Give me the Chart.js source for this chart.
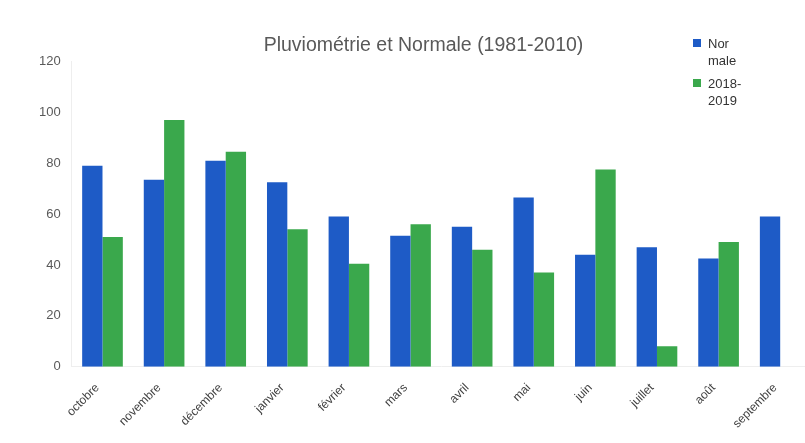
<!DOCTYPE html>
<html>
<head>
<meta charset="utf-8">
<script src="https://cdn.jsdelivr.net/npm/chart.js@4"></script>
<style>
  html, body { margin: 0; padding: 0; background: #fff; overflow: hidden; }
  #wrap { position: relative; width: 805px; height: 443px; overflow: hidden; }
  #legend { position: absolute; left: 693px; top: 35px; font: 13px "Liberation Sans", Arial, sans-serif; color: #333; line-height: 17px; }
  .item { position: relative; padding-left: 15px; margin-bottom: 6px; }
  .box { position: absolute; left: 0; top: 4px; width: 8px; height: 8px; }
</style>
</head>
<body>
<div id="wrap">
  <canvas id="pluvioChart" width="814" height="443"></canvas>
  <div id="legend">
    <div class="item"><span class="box" style="background:#1e5bc6"></span>Nor<br>male</div>
    <div class="item"><span class="box" style="background:#3aa84c"></span>2018-<br>2019</div>
  </div>
</div>
<script>
// --- DATA ---
const months = ["octobre", "novembre", "décembre", "janvier", "février", "mars",
                "avril", "mai", "juin", "juillet", "août", "septembre"];
const normale = [79, 73.5, 81, 72.5, 59, 51.5, 55, 66.5, 44, 47, 42.5, 59];
const saison = [51, 97, 84.5, 54, 40.5, 56, 46, 37, 77.5, 8, 49, null];
const yTicks = { min: 0, max: 120, step: 20 };

// --- Chart ---
const ctx = document.getElementById('pluvioChart').getContext('2d');
new Chart(ctx, {
  type: 'bar',
  data: {
    labels: months,
    datasets: [
      { label: "Normale", data: normale, backgroundColor: "#1e5bc6" },
      { label: "2018-2019", data: saison, backgroundColor: "#3aa84c" }
    ]
  },
  options: {
    responsive: false,
    animation: false,
    layout: { padding: { left: 36, right: 3, top: 34, bottom: 6 } },
    datasets: { bar: { categoryPercentage: 0.66, barPercentage: 1.0 } },
    scales: {
      x: {
        grid: { display: false },
        border: { color: "#eeeeee" },
        ticks: { color: "#404040", font: { family: "Liberation Sans", size: 12 }, minRotation: 45, maxRotation: 45, padding: 6, labelOffset: -5 }
      },
      y: {
        min: yTicks.min, max: yTicks.max,
        grid: { display: false },
        border: { color: "#eeeeee" },
        ticks: { stepSize: yTicks.step, color: "#595959", font: { family: "Liberation Sans", size: 13 }, padding: 3 }
      }
    },
    plugins: {
      legend: { display: false },
      tooltip: { enabled: false },
      title: {
        display: true,
        text: "Pluviométrie et Normale (1981-2010)",
        color: "#595959",
        font: { family: "Liberation Sans", size: 19.5, weight: "normal" },
        padding: { top: 0, bottom: 4 }
      }
    }
  }
});
</script>
</body>
</html>
